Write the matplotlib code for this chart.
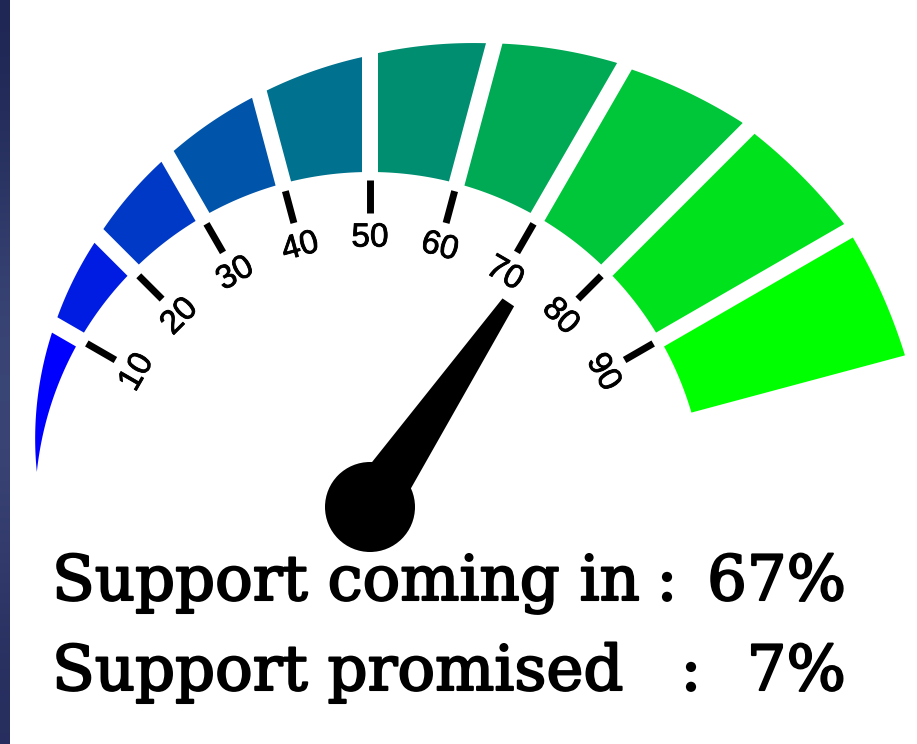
import numpy as np
import matplotlib.pyplot as plt
import matplotlib.patheffects as pe
from matplotlib.patches import Polygon, Circle

# ---- data ----
segment_edges = [0, 10, 20, 30, 40, 50, 60, 70, 80, 90, 100]
tick_values = [10, 20, 30, 40, 50, 60, 70, 80, 90]
tick_labels = ['10', '20', '30', '40', '50', '60', '70', '80', '90']
needle_value = 72.7          # where the needle sits on the dial
coming_in_pct = 67
promised_pct = 7

# ---- gauge geometry (pixel units, centre of the hub = origin) ----
R_IN = 335
GAP = 16
START_DEG, SPAN_DEG = 165, 150          # value 0 -> 165 deg, value 100 -> 15 deg
FIRST_TIP_DEG = 174                     # first band tapers out down here
# outer edge of the bands grows with the angle
PROFILE_ANG = [16, 29, 31, 44, 46, 59, 61, 74, 76, 89, 91, 104, 106, 118.6, 136, 148.5, 151, 174]
PROFILE_R = [556, 553, 552, 536, 535, 510, 508, 482, 478, 454, 450, 429, 426, 407, 382, 366, 363, 335]


def val2deg(v):
    return START_DEG - SPAN_DEG * v / 100.0


def outer_r(th):
    return np.interp(th, PROFILE_ANG, PROFILE_R)


def half_gap_deg(r, h):
    return np.degrees(np.arcsin(h / r))


def band(a0, a1, h0, h1):
    # a0 > a1 in degrees; h0/h1 = half gap at each edge
    o0 = outer_r(a0 - half_gap_deg(outer_r(a0), h0)) if h0 else outer_r(a0)
    o1 = outer_r(a1 + half_gap_deg(outer_r(a1), h1))
    th_in = np.linspace(a0 - half_gap_deg(R_IN, h0), a1 + half_gap_deg(R_IN, h1), 80)
    th_out = np.linspace(a1 + half_gap_deg(o1, h1), a0 - half_gap_deg(o0, h0), 80)
    r_out = outer_r(th_out)
    xs = np.concatenate([R_IN * np.cos(np.radians(th_in)), r_out * np.cos(np.radians(th_out))])
    ys = np.concatenate([R_IN * np.sin(np.radians(th_in)), r_out * np.sin(np.radians(th_out))])
    return np.column_stack([xs, ys])


fig = plt.figure(figsize=(9.17, 7.44), dpi=100)
ax = fig.add_axes([0, 0, 1, 1])
ax.set_xlim(-370, 547)
ax.set_ylim(-237, 507)
ax.set_aspect('equal')
ax.axis('off')

# dark strip on the left edge
grad = np.array([[0.12, 0.15, 0.33], [0.22, 0.27, 0.46], [0.24, 0.28, 0.47], [0.15, 0.18, 0.37]])
ax.imshow(grad.reshape(4, 1, 3), extent=[-370, -360, -237, 507], aspect='auto',
          interpolation='bicubic', zorder=0)

# coloured bands
n = len(segment_edges) - 1
for i in range(n):
    frac = i / (n - 1)
    col = (0.0, frac, 1.0 - frac)
    a0 = FIRST_TIP_DEG if i == 0 else val2deg(segment_edges[i])
    a1 = val2deg(segment_edges[i + 1])
    h0 = 0 if i == 0 else GAP / 2
    ax.add_patch(Polygon(band(a0, a1, h0, GAP / 2), closed=True, facecolor=col,
                         edgecolor='none', zorder=2))

# ticks and labels
thin = [pe.withStroke(linewidth=0.6, foreground='black')]
for v, lab in zip(tick_values, tick_labels):
    t = np.radians(val2deg(v))
    ax.plot([294 * np.cos(t), 327 * np.cos(t)], [294 * np.sin(t), 327 * np.sin(t)],
            color='black', lw=5.0, solid_capstyle='butt', zorder=3)
    ax.text(269 * np.cos(t), 269 * np.sin(t), lab, rotation=val2deg(v) - 90,
            rotation_mode='anchor', ha='center', va='center',
            family='Liberation Sans', fontsize=24, color='black', zorder=3,
            path_effects=thin)

# needle + hub
t = np.radians(val2deg(needle_value))
u = np.array([np.cos(t), np.sin(t)])
nrm = np.array([-u[1], u[0]])
tip = 247 * u
needle = np.array([nrm * 26.5, tip + nrm * 7, tip - nrm * 7, -nrm * 26.5])
ax.add_patch(Polygon(needle, closed=True, facecolor='black', edgecolor='none', zorder=4))
ax.add_patch(Circle((0, 0), 45, facecolor='black', edgecolor='none', zorder=5))

# readout text
txt = dict(family='DejaVu Serif', fontsize=45, color='black', va='baseline', zorder=6,
           path_effects=[pe.withStroke(linewidth=1.5, foreground='black')])
ax.text(-318, -93, 'Support coming in', ha='left', **txt)
ax.text(297, -93, ':', ha='center', **txt)
ax.text(476, -93, f'{coming_in_pct}%', ha='right', **txt)
ax.text(-318, -183, 'Support promised', ha='left', **txt)
ax.text(321, -183, ':', ha='center', **txt)
ax.text(476, -183, f'{promised_pct}%', ha='right', **txt)

fig.savefig('out.png', dpi=100, facecolor='white')
